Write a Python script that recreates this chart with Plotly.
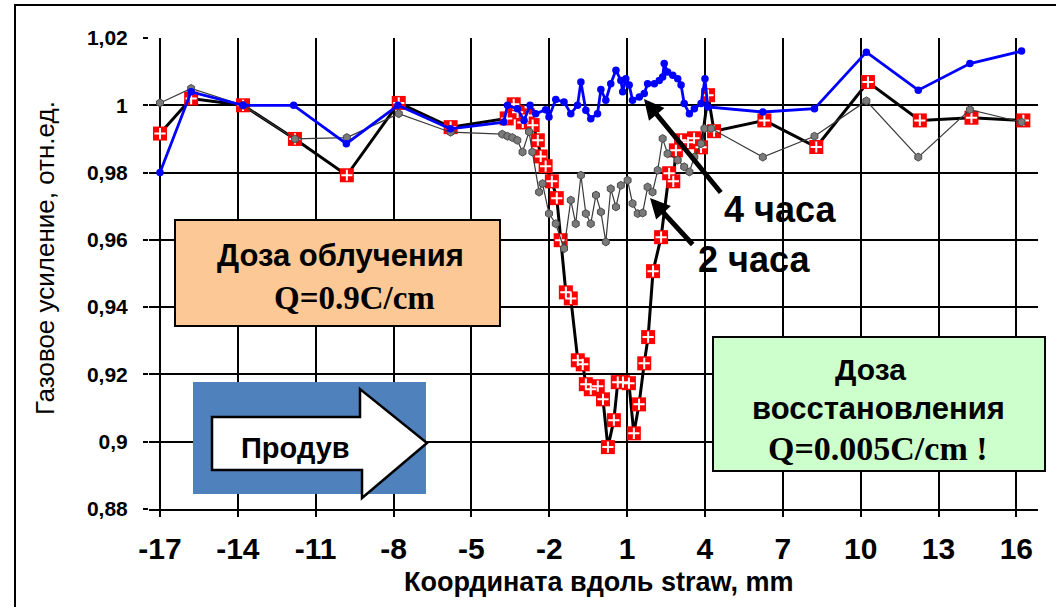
import plotly.graph_objects as go

# ---------------- data ----------------
blue_x = [-17.0, -15.8, -13.8, -11.85, -9.82, -7.83, -5.81,
          -3.75, -3.61, -3.23, -2.97, -2.74, -2.52, -2.14, -2.01, -1.75, -1.43, -1.17,
          -0.91, -0.78, -0.59, -0.40, -0.14, -0.01, 0.18, 0.37, 0.57, 0.76, 0.83, 0.95,
          1.08, 1.21, 1.47, 1.66, 1.79, 2.05, 2.24, 2.37, 2.43, 2.56, 2.76, 2.95, 3.08,
          3.20, 3.40, 3.59, 3.85, 4.00, 4.11,
          6.23, 8.22, 10.22, 12.22, 14.21, 16.2]
blue_y = [0.980, 1.004, 1.000, 1.000, 0.9886, 1.000, 0.993,
          0.995, 1.000, 0.999, 0.9955, 1.000, 0.9975, 0.9987, 0.9965, 1.0017, 1.001, 0.9975,
          1.000, 1.0069, 0.9985, 0.996, 0.9975, 1.0047, 1.0015, 1.0064, 1.0104, 1.0074, 1.004, 1.0079,
          1.006, 1.0015, 1.0025, 1.0035, 1.0064, 1.0064, 1.0074, 1.0084, 1.0124, 1.0099, 1.0089, 1.0079, 1.006,
          1.0005, 0.9975, 0.999, 1.0005, 1.0079, 0.9995,
          0.998, 0.999, 1.0158, 1.0045, 1.0124, 1.0161]

gray_x = [-17.0, -15.8, -13.8, -11.8, -9.8, -7.8, -5.8,
          -3.81, -3.61, -3.42, -3.23, -3.03, -2.78, -2.65, -2.39, -2.26, -2.01, -1.75, -1.43,
          -1.17, -0.98, -0.78, -0.59, -0.40, -0.20, -0.01, 0.18, 0.37, 0.57, 0.76, 1.02,
          1.21, 1.41, 1.60, 1.79, 1.98, 2.18, 2.37, 2.56, 2.95, 3.20, 3.40, 3.59, 3.85, 3.98, 4.24,
          6.23, 8.22, 10.22, 12.22, 14.21, 16.2]
gray_y = [1.0007, 1.005, 1.000, 0.990, 0.9904, 0.9975, 0.992,
          0.9914, 0.9908, 0.9904, 0.9896, 0.9861, 0.9921, 0.9861, 0.9742, 0.9767, 0.9678, 0.9648, 0.9574,
          0.9718, 0.9648, 0.9792, 0.9678, 0.9648, 0.9733, 0.9683, 0.9594, 0.9752, 0.9698, 0.9762, 0.9777,
          0.9708, 0.9678, 0.968, 0.9757, 0.9742, 0.9807, 0.9901, 0.9856, 0.9837, 0.9817, 0.9802, 0.9846, 0.9886, 0.9931, 0.9931,
          0.9846, 0.9908, 1.0013, 0.9846, 0.9987, 0.995]

red_x = [-17.0, -15.8, -13.8, -11.8, -9.8, -7.8, -5.8,
         -3.64, -3.37, -3.22, -3.02, -2.83, -2.64, -2.44, -2.33, -2.14, -1.90, -1.71, -1.56,
         -1.36, -1.17, -0.90, -0.71, -0.59, -0.40, -0.13, 0.07, 0.26, 0.49, 0.64, 0.84,
         1.07, 1.26, 1.46, 1.66, 1.81, 2.00, 2.31, 2.62, 2.78, 2.88, 3.08, 3.35, 3.58, 3.85, 4.12, 4.35,
         6.29, 8.29, 10.28, 12.28, 14.27, 16.27]
red_y = [0.9916, 1.002, 1.000, 0.990, 0.9792, 1.0007, 0.9935,
         0.9961, 1.0003, 0.9979, 0.9949, 0.997, 0.9941, 0.9896, 0.9848, 0.9819, 0.9774, 0.9724, 0.9599,
         0.9444, 0.9426, 0.9242, 0.923, 0.9171, 0.9156, 0.9165, 0.9126, 0.8984, 0.9064, 0.9177, 0.9177,
         0.9174, 0.9025, 0.9111, 0.9233, 0.9311, 0.9507, 0.9608, 0.9798, 0.9774, 0.9866, 0.9896, 0.989, 0.9902, 0.9875, 1.003, 0.9923,
         0.9955, 0.9876, 1.0069, 0.9955, 0.9963, 0.9955]

x_ticks = [-17, -14, -11, -8, -5, -2, 1, 4, 7, 10, 13, 16]
y_ticks = [0.88, 0.90, 0.92, 0.94, 0.96, 0.98, 1.00, 1.02]
y_tick_text = ["0,88", "0,9", "0,92", "0,94", "0,96", "0,98", "1", "1,02"]

# ---------------- layout helpers (pixel -> paper) ----------------
W, H = 1056, 607
L, R, T, B = 149, 1038, 38, 509

def px(X):
    return (X - L) / (R - L)

def py(Y):
    return (B - Y) / (B - T)

ARIAL = "Liberation Sans, Arial, sans-serif"
TIMES = "Liberation Serif, Times New Roman, serif"

fig = go.Figure()

# red (0h) : black thick line + red squares with white plus
fig.add_trace(go.Scatter(x=red_x, y=red_y, mode="lines+markers",
                         line=dict(color="black", width=3),
                         marker=dict(symbol="square", size=14, color="#FF0000",
                                     line=dict(width=0)),
                         hoverinfo="skip", showlegend=False))
fig.add_trace(go.Scatter(x=red_x, y=red_y, mode="markers",
                         marker=dict(symbol="cross-thin", size=8,
                                     line=dict(color="white", width=2)),
                         hoverinfo="skip", showlegend=False))
# gray (2h)
fig.add_trace(go.Scatter(x=gray_x, y=gray_y, mode="lines+markers",
                         line=dict(color="#3a3a3a", width=1.2),
                         marker=dict(symbol="hexagon", size=8, color="#7a7a7a",
                                     line=dict(color="#4a4a4a", width=1)),
                         hoverinfo="skip", showlegend=False))
# blue (4h)
fig.add_trace(go.Scatter(x=blue_x, y=blue_y, mode="lines+markers",
                         line=dict(color="#0000FF", width=2.8),
                         marker=dict(symbol="circle", size=7.5, color="#0000FF"),
                         hoverinfo="skip", showlegend=False))

shapes = []
# outer frame
shapes.append(dict(type="rect", xref="paper", yref="paper",
                   x0=px(15), x1=px(1070), y0=py(5), y1=py(620),
                   line=dict(color="black", width=2), fillcolor="rgba(0,0,0,0)", layer="below"))
# orange box
shapes.append(dict(type="rect", xref="paper", yref="paper",
                   x0=px(175), x1=px(500), y0=py(220), y1=py(326),
                   line=dict(color="black", width=2), fillcolor="#FBC896", layer="above"))
# green box
shapes.append(dict(type="rect", xref="paper", yref="paper",
                   x0=px(713), x1=px(1045), y0=py(337), y1=py(471),
                   line=dict(color="black", width=2), fillcolor="#CCFFCC", layer="above"))
# blue box
shapes.append(dict(type="rect", xref="paper", yref="paper",
                   x0=px(193), x1=px(426), y0=py(382), y1=py(494),
                   line=dict(width=0), fillcolor="#4F81BD", layer="above"))
# white arrow inside blue box
pts = [(212, 417), (360, 417), (360, 389), (427, 443), (362, 498), (362, 470), (212, 470)]
path = "M " + " L ".join(f"{px(a):.5f},{py(b):.5f}" for a, b in pts) + " Z"
shapes.append(dict(type="path", xref="paper", yref="paper", path=path,
                   line=dict(color="black", width=2.5), fillcolor="white", layer="above"))

annotations = []
def text(X, Y, s, size, family=ARIAL, bold=True, angle=0):
    annotations.append(dict(xref="paper", yref="paper", x=px(X), y=py(Y),
                            text=f"<b>{s}</b>" if bold else s, showarrow=False,
                            xanchor="center", yanchor="middle", textangle=angle,
                            font=dict(family=family, size=size, color="black")))

text(340, 255, "Доза облучения", 31)
text(354, 298, "Q=0.9C/cm", 33, family=TIMES)
text(870, 369, "Доза", 30)
text(878, 408, "восстановления", 31)
text(878, 448, "Q=0.005C/cm !", 34, family=TIMES)
text(295, 448, "Продув", 29)
text(780, 209, "4 часа", 36)
text(754, 259, "2 часа", 36)
text(598, 582, "Координата вдоль straw, mm", 27)
text(45, 258, "Газовое усиление, отн.ед.", 26, bold=False, angle=-90)

def arrow(tipX, tipY, tailX, tailY):
    annotations.append(dict(xref="paper", yref="paper", x=px(tipX), y=py(tipY),
                            axref="pixel", ayref="pixel", ax=tailX - tipX, ay=tailY - tipY,
                            text="", showarrow=True, arrowhead=2, arrowsize=0.8,
                            arrowwidth=5, arrowcolor="black"))

arrow(644, 99, 722, 194)
arrow(650, 198, 694, 246)

fig.update_layout(
    width=W, height=H,
    margin=dict(l=L, r=W - R, t=T, b=H - B),
    paper_bgcolor="white", plot_bgcolor="white",
    shapes=shapes, annotations=annotations,
    showlegend=False,
    xaxis=dict(range=[-17 + (L - 160) / 25.95, -17 + (R - 160) / 25.95],
               tickvals=x_ticks, ticktext=[str(v) for v in x_ticks],
               showgrid=True, gridcolor="black", gridwidth=2,
               zeroline=False, showline=True, linecolor="black", linewidth=2,
               ticks="outside", ticklen=6, tickcolor="black", tickwidth=2,
               ticklabelstandoff=6,
               tickfont=dict(family=ARIAL, size=30, color="black", weight="bold")),
    yaxis=dict(range=[0.88, 1.02], tickvals=y_ticks, ticktext=y_tick_text,
               showgrid=True, gridcolor="black", gridwidth=2,
               zeroline=False, showline=False,
               ticks="outside", ticklen=5, tickcolor="black", tickwidth=2,
               ticklabelstandoff=11,
               tickfont=dict(family=ARIAL, size=21, color="black", weight="bold")),
)

fig.write_html("out.html", config={"displayModeBar": False},
               post_script="document.body.style.margin='0';")
